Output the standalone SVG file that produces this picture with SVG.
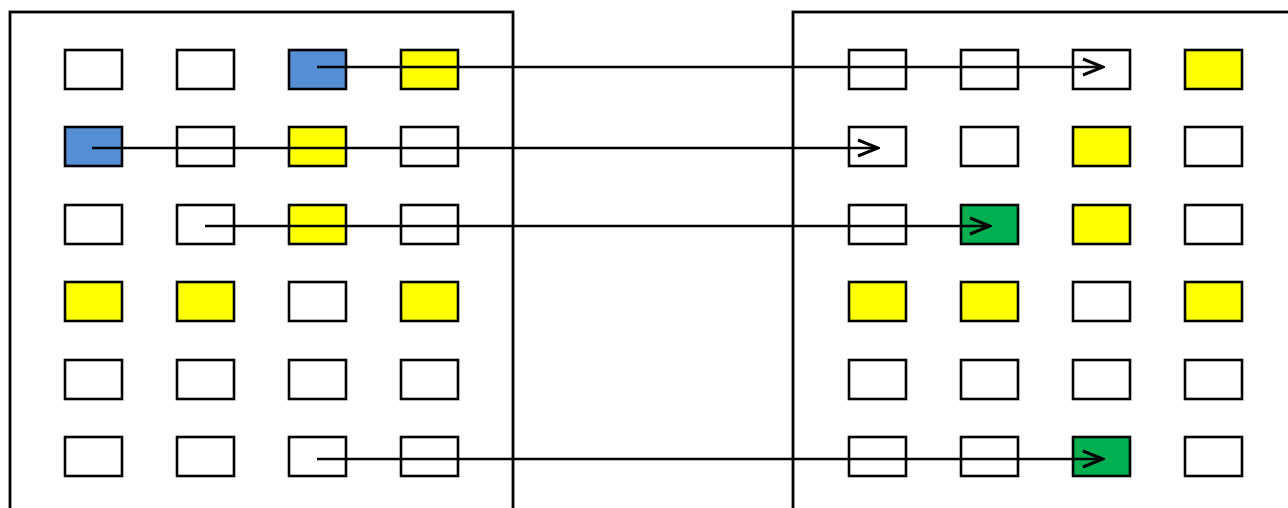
<svg xmlns="http://www.w3.org/2000/svg" width="1288" height="508" viewBox="0 0 1288 508">
<defs>
<style>
.panel{fill:none;stroke:#000;stroke-width:2.8}
.c{stroke:#000;stroke-width:2.6;fill:#fff}
.y{fill:#FFFF00}
.b{fill:#558ED5}
.g{fill:#00B050}
.a{stroke:#000;stroke-width:2.6;fill:none}
</style>
<marker id="arr" markerUnits="userSpaceOnUse" viewBox="-22 -10 24 20" refX="0" refY="0" markerWidth="24" markerHeight="20" orient="auto">
<path d="M-20,-8 L0,0 L-20,8" fill="none" stroke="#000" stroke-width="3"/>
</marker>
</defs>
<rect width="1288" height="508" fill="#fff"/>
<g id="left-panel">
<rect class="panel" x="10" y="12" width="503" height="520"/>
</g>
<g id="right-panel">
<rect class="panel" x="793" y="12" width="540" height="520"/>
</g>
<g id="left-grid">
<rect id="L00" class="c" x="65" y="50" width="57" height="39"/>
<rect id="L01" class="c" x="177" y="50" width="57" height="39"/>
<rect id="L02" class="c b" x="289" y="50" width="57" height="39"/>
<rect id="L03" class="c y" x="401" y="50" width="57" height="39"/>
<rect id="L10" class="c b" x="65" y="127" width="57" height="39"/>
<rect id="L11" class="c" x="177" y="127" width="57" height="39"/>
<rect id="L12" class="c y" x="289" y="127" width="57" height="39"/>
<rect id="L13" class="c" x="401" y="127" width="57" height="39"/>
<rect id="L20" class="c" x="65" y="205" width="57" height="39"/>
<rect id="L21" class="c" x="177" y="205" width="57" height="39"/>
<rect id="L22" class="c y" x="289" y="205" width="57" height="39"/>
<rect id="L23" class="c" x="401" y="205" width="57" height="39"/>
<rect id="L30" class="c y" x="65" y="282" width="57" height="39"/>
<rect id="L31" class="c y" x="177" y="282" width="57" height="39"/>
<rect id="L32" class="c" x="289" y="282" width="57" height="39"/>
<rect id="L33" class="c y" x="401" y="282" width="57" height="39"/>
<rect id="L40" class="c" x="65" y="360" width="57" height="39"/>
<rect id="L41" class="c" x="177" y="360" width="57" height="39"/>
<rect id="L42" class="c" x="289" y="360" width="57" height="39"/>
<rect id="L43" class="c" x="401" y="360" width="57" height="39"/>
<rect id="L50" class="c" x="65" y="437" width="57" height="39"/>
<rect id="L51" class="c" x="177" y="437" width="57" height="39"/>
<rect id="L52" class="c" x="289" y="437" width="57" height="39"/>
<rect id="L53" class="c" x="401" y="437" width="57" height="39"/>
</g>
<g id="right-grid">
<rect id="R00" class="c" x="849" y="50" width="57" height="39"/>
<rect id="R01" class="c" x="961" y="50" width="57" height="39"/>
<rect id="R02" class="c" x="1073" y="50" width="57" height="39"/>
<rect id="R03" class="c y" x="1185" y="50" width="57" height="39"/>
<rect id="R10" class="c" x="849" y="127" width="57" height="39"/>
<rect id="R11" class="c" x="961" y="127" width="57" height="39"/>
<rect id="R12" class="c y" x="1073" y="127" width="57" height="39"/>
<rect id="R13" class="c" x="1185" y="127" width="57" height="39"/>
<rect id="R20" class="c" x="849" y="205" width="57" height="39"/>
<rect id="R21" class="c g" x="961" y="205" width="57" height="39"/>
<rect id="R22" class="c y" x="1073" y="205" width="57" height="39"/>
<rect id="R23" class="c" x="1185" y="205" width="57" height="39"/>
<rect id="R30" class="c y" x="849" y="282" width="57" height="39"/>
<rect id="R31" class="c y" x="961" y="282" width="57" height="39"/>
<rect id="R32" class="c" x="1073" y="282" width="57" height="39"/>
<rect id="R33" class="c y" x="1185" y="282" width="57" height="39"/>
<rect id="R40" class="c" x="849" y="360" width="57" height="39"/>
<rect id="R41" class="c" x="961" y="360" width="57" height="39"/>
<rect id="R42" class="c" x="1073" y="360" width="57" height="39"/>
<rect id="R43" class="c" x="1185" y="360" width="57" height="39"/>
<rect id="R50" class="c" x="849" y="437" width="57" height="39"/>
<rect id="R51" class="c" x="961" y="437" width="57" height="39"/>
<rect id="R52" class="c g" x="1073" y="437" width="57" height="39"/>
<rect id="R53" class="c" x="1185" y="437" width="57" height="39"/>
</g>
<g id="connectors">
<line class="a" x1="317" y1="67" x2="1103" y2="67" marker-end="url(#arr)"/>
<line class="a" x1="92" y1="148" x2="878" y2="148" marker-end="url(#arr)"/>
<line class="a" x1="205" y1="226" x2="990" y2="226" marker-end="url(#arr)"/>
<line class="a" x1="317" y1="459" x2="1103" y2="459" marker-end="url(#arr)"/>
</g>
</svg>
